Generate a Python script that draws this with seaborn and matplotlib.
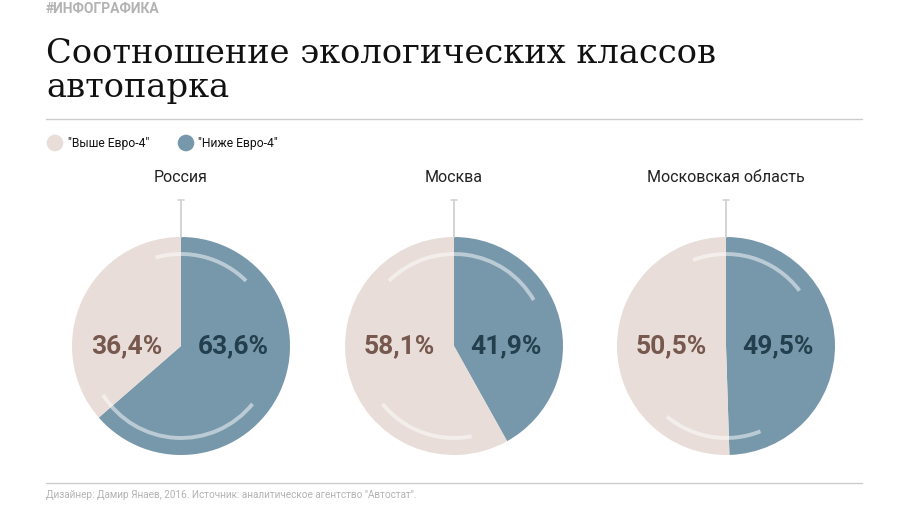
import matplotlib
matplotlib.use("Agg")
import matplotlib.pyplot as plt
from matplotlib.patches import Arc, Circle
import seaborn as sns

# ---- data ----
regions = ["Россия", "Москва", "Московская область"]
below_euro4 = [63.6, 41.9, 49.5]   # "Ниже Евро-4"
above_euro4 = [36.4, 58.1, 50.5]   # "Выше Евро-4"
legend_labels = ['"Выше Евро-4"', '"Ниже Евро-4"']

title_lines = ["Соотношение экологических классов", "автопарка"]
header = "#ИНФОГРАФИКА"
footer = 'Дизайнер: Дамир Янаев, 2016. Источник: аналитическое агентство "Автостат".'

# ---- style ----
sns.set_theme(style="white")
plt.rcParams['font.family'] = ['Roboto', 'DejaVu Sans']

C_ABOVE = "#e8ddd8"
C_BELOW = "#7798ab"
T_ABOVE = "#77584f"
T_BELOW = "#233f4e"
GRAY = "#b3b3b3"

W, H = 910, 507
fig = plt.figure(figsize=(W / 100, H / 100), dpi=100)
ax = fig.add_axes([0, 0, 1, 1])

def Y(y):
    return H - y

centers_x = [181, 454, 726]
cy = 346
R = 109

# decorative arcs (angles in degrees, styling only)
arcs = [
    [(45, 106), (212, 321)],
    [(30, 135), (219, 281)],
    [(37, 111), (230, 292)],
]

for i, name in enumerate(regions):
    cx = centers_x[i]
    ax.pie([below_euro4[i], above_euro4[i]], colors=[C_BELOW, C_ABOVE],
           startangle=90, counterclock=False, radius=R,
           center=(cx, Y(cy)), frame=True,
           wedgeprops=dict(linewidth=0))
    for t1, t2 in arcs[i]:
        ax.add_patch(Arc((cx, Y(cy)), 2 * 92, 2 * 92, theta1=t1, theta2=t2,
                         color="white", alpha=0.5, lw=2.8, zorder=5))
    # marker line above pie
    ax.plot([cx, cx], [Y(200), Y(cy - R)], color="#d4d4d4", lw=1.4, zorder=1)
    ax.plot([cx - 3, cx + 3], [Y(200), Y(200)], color="#d4d4d4", lw=1.2, zorder=1)
    ax.text(cx, Y(177), name, ha="center", va="center", fontsize=11.5, color="#222222")
    ax.text(cx + 0.48 * R, Y(346), f"{below_euro4[i]:.1f}%".replace(".", ","),
            ha="center", va="center", fontsize=19, fontweight="bold", color=T_BELOW, zorder=6)
    ax.text(cx - 0.5 * R, Y(346), f"{above_euro4[i]:.1f}%".replace(".", ","),
            ha="center", va="center", fontsize=19, fontweight="bold", color=T_ABOVE, zorder=6)

# legend
for (lx, tx), lab, col in zip([(55, 68), (186, 198)], legend_labels, [C_ABOVE, C_BELOW]):
    ax.add_patch(Circle((lx, Y(143)), 8.3, color=col, lw=0))
    ax.text(tx, Y(143), lab, ha="left", va="center", fontsize=8.7, color="#111111")

# header, title, lines, footer
ax.text(46, Y(9), header, ha="left", va="center", fontsize=10, fontweight="bold", color=GRAY)
for txt, yb in zip(title_lines, [63, 97]):
    ax.text(46, Y(yb), txt, ha="left", va="baseline",
            fontsize=24.3, family=["DejaVu Serif"], color="#111111")
ax.plot([46, 862], [Y(119), Y(119)], color="#cccccc", lw=1)
ax.plot([46, 862], [Y(483), Y(483)], color="#cccccc", lw=1)
ax.text(46, Y(495), footer, ha="left", va="center", fontsize=7.2, color=GRAY)

ax.set_xlim(0, W)
ax.set_ylim(0, H)
ax.set_aspect("auto")
ax.axis("off")

fig.savefig("out.png", dpi=100)
